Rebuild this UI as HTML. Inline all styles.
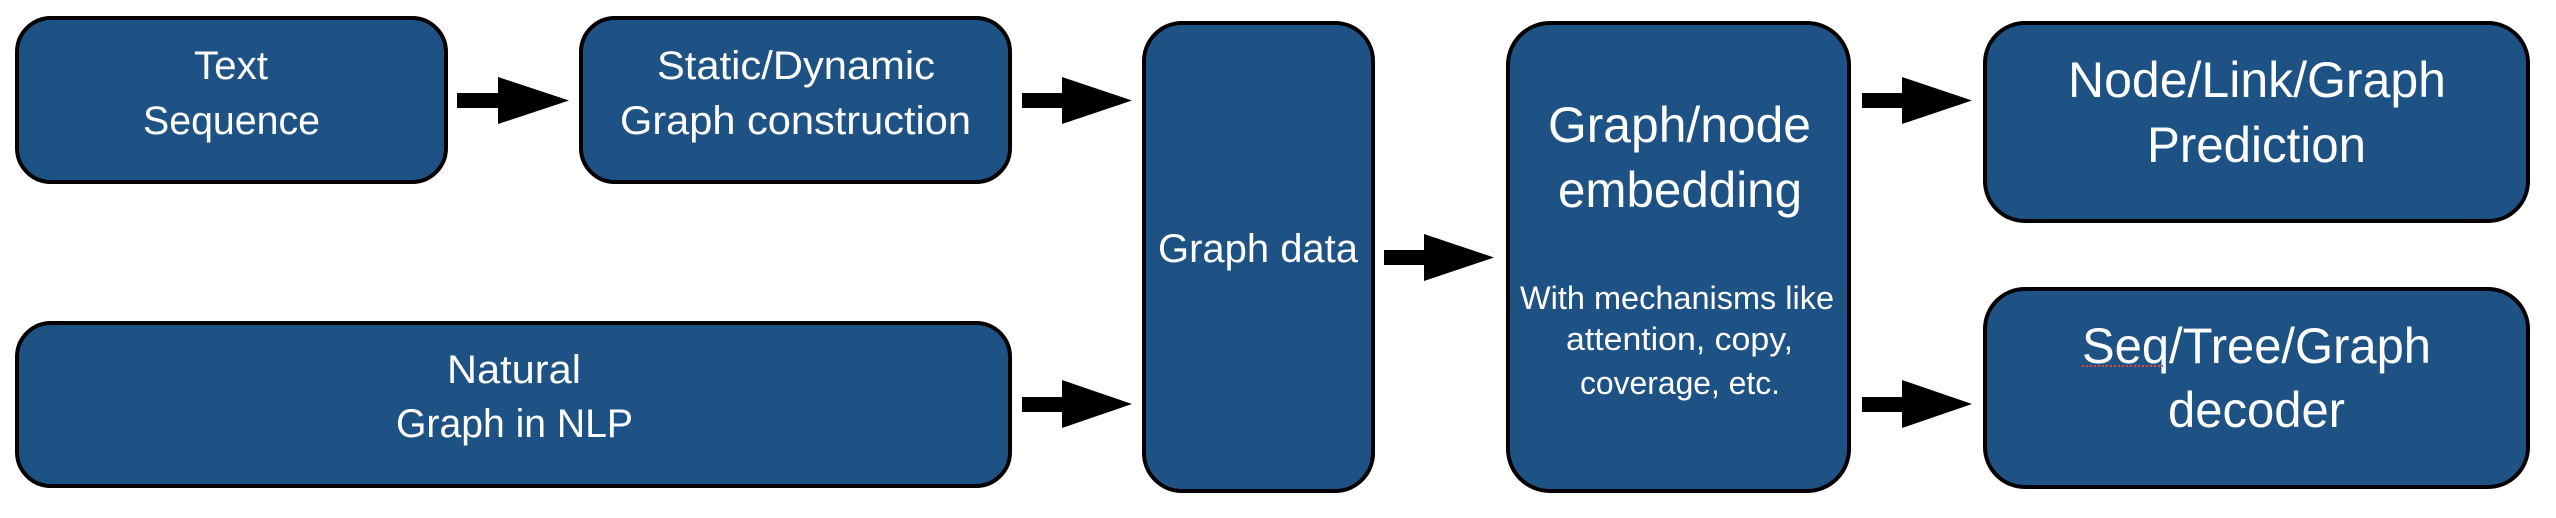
<!DOCTYPE html>
<html><head><meta charset="utf-8"><style>
html,body{margin:0;padding:0;background:#fff;}
svg{display:block;}
text{font-family:"Liberation Sans",sans-serif;fill:#fff;}
</style></head><body>
<svg width="2556" height="518" viewBox="0 0 2556 518" xmlns="http://www.w3.org/2000/svg">
<g fill="#1F5284" stroke="#000" stroke-width="4">
<rect x="17" y="18" width="429" height="164" rx="34"/>
<rect x="581" y="18" width="429" height="164" rx="34"/>
<rect x="17" y="323" width="993" height="163" rx="34"/>
<rect x="1144" y="23" width="229" height="468" rx="38"/>
<rect x="1508" y="23" width="341" height="468" rx="42"/>
<rect x="1985" y="23" width="543" height="198" rx="40"/>
<rect x="1985" y="289" width="543" height="198" rx="40"/>
</g>
<g fill="#000">
<polygon points="457,93 498,93 498,77 569,100.5 498,124 498,108 457,108"/>
<polygon points="1022,93 1062,93 1062,77 1132,100.5 1062,124 1062,108 1022,108"/>
<polygon points="1022,397 1062,397 1062,380 1132,404 1062,428 1062,412 1022,412"/>
<polygon points="1384,250 1424,250 1424,234 1494,257.5 1424,281 1424,265 1384,265"/>
<polygon points="1862,93 1902,93 1902,77 1972,100.5 1902,124 1902,108 1862,108"/>
<polygon points="1862,397 1902,397 1902,380 1972,404 1902,428 1902,412 1862,412"/>
</g>
<g font-size="40">
<text x="194" y="79" textLength="74" lengthAdjust="spacingAndGlyphs">Text</text>
<text x="143" y="134" textLength="177" lengthAdjust="spacingAndGlyphs">Sequence</text>
<text x="657" y="79" textLength="278" lengthAdjust="spacingAndGlyphs">Static/Dynamic</text>
<text x="620" y="134" textLength="351" lengthAdjust="spacingAndGlyphs">Graph construction</text>
<text x="447" y="383" textLength="134" lengthAdjust="spacingAndGlyphs">Natural</text>
<text x="396" y="437" textLength="237" lengthAdjust="spacingAndGlyphs">Graph in NLP</text>
<text x="1158" y="262" textLength="200" lengthAdjust="spacingAndGlyphs">Graph data</text>
</g>
<g font-size="50">
<text x="1548" y="142" textLength="263" lengthAdjust="spacingAndGlyphs">Graph/node</text>
<text x="1558" y="207" textLength="244" lengthAdjust="spacingAndGlyphs">embedding</text>
<text x="2068" y="97" textLength="378" lengthAdjust="spacingAndGlyphs">Node/Link/Graph</text>
<text x="2147" y="162" textLength="219" lengthAdjust="spacingAndGlyphs">Prediction</text>
<text x="2082" y="363" textLength="349" lengthAdjust="spacingAndGlyphs">Seq/Tree/Graph</text>
<text x="2168" y="427" textLength="177" lengthAdjust="spacingAndGlyphs">decoder</text>
</g>
<g font-size="32">
<text x="1520" y="309" textLength="314" lengthAdjust="spacingAndGlyphs">With mechanisms like</text>
<text x="1566" y="350" textLength="227" lengthAdjust="spacingAndGlyphs">attention, copy,</text>
<text x="1580" y="394" textLength="200" lengthAdjust="spacingAndGlyphs">coverage, etc.</text>
</g>
<line x1="2082" y1="366" x2="2163" y2="366" stroke="#e0453a" stroke-width="2" stroke-dasharray="2,2"/>
</svg>
</body></html>
